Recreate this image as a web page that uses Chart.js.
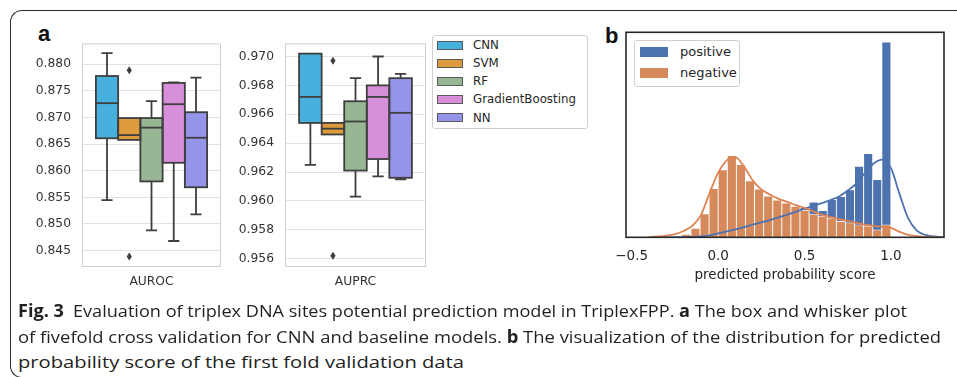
<!DOCTYPE html>
<html>
<head>
<meta charset="utf-8">
<script src="https://cdn.jsdelivr.net/npm/chart.js@4.4.1/dist/chart.umd.min.js"></script>
<style>
  body { margin:0; background:#fff; width:957px; height:377px; overflow:hidden; position:relative; font-family:"DejaVu Sans", sans-serif; }
  .frame { position:absolute; left:10px; top:10px; width:980px; height:368px; box-sizing:border-box; border:1.4px solid #2b2b2b; border-right:none; border-radius:12px 0 0 12px; }
  canvas { position:absolute; }
  .lab { position:absolute; font:bold 22px "Liberation Sans", Arial, sans-serif; line-height:22px; color:#111; }
  .legend { position:absolute; box-sizing:border-box; border:1px solid #cfcfcf; border-radius:3px; background:#fff; }
  .legend .sw { position:absolute; box-sizing:border-box; }
  .legend .tx { position:absolute; white-space:nowrap; color:#262626; }
  .cap { position:absolute; left:18px; white-space:nowrap; font-family:"Liberation Sans Narrow", "Open Sans", sans-serif; font-size:17px; line-height:22px; color:#231f20; transform-origin:0 50%; }
</style>
</head>
<body>
<div class="frame"></div>
<div class="lab" style="left:38px;top:23px">a</div>
<div class="lab" style="left:605px;top:25px">b</div>

<canvas id="auroc" width="205" height="275" style="left:20px;top:25px"></canvas>
<canvas id="auprc" width="205" height="275" style="left:225px;top:25px"></canvas>
<canvas id="hist" width="352" height="268" style="left:600px;top:22px"></canvas>
<div id="legA" class="legend" style="left:432px;top:35px;width:156px;height:94px"></div>
<div id="legB" class="legend" style="left:634px;top:40px;width:106px;height:47px"></div>

<div class="cap" style="top:300px" data-w="889"><b>Fig. 3</b>&ensp;Evaluation of triplex DNA sites potential prediction model in TriplexFPP. <b>a</b> The box and whisker plot</div>
<div class="cap" style="top:326px" data-w="923">of fivefold cross validation for CNN and baseline models. <b>b</b> The visualization of the distribution for predicted</div>
<div class="cap" style="top:351px" data-w="446">probability score of the first fold validation data</div>

<script>
// panel a: five-fold CV box plots
const models = ['CNN', 'SVM', 'RF', 'GradientBoosting', 'NN'];
const modelColors = ['#48b0dc', '#de9b3b', '#97b694', '#d88fd9', '#9494ea'];

const aurocMin = [0.8545, 0.8658, 0.8488, 0.8468, 0.8518];
const aurocQ1  = [0.8661, 0.8658, 0.8580, 0.8615, 0.8569];
const aurocMed = [0.8727, 0.8667, 0.8681, 0.8725, 0.8662];
const aurocQ3  = [0.8778, 0.8699, 0.8699, 0.8765, 0.8710];
const aurocMax = [0.8821, 0.8699, 0.8731, 0.8766, 0.8775];
const aurocOut = [[], [0.8789, 0.8439], [], [], []];
const aurocTicks = [0.845, 0.850, 0.855, 0.860, 0.865, 0.870, 0.875, 0.880];

const auprcMin = [0.9625, 0.9646, 0.9603, 0.9617, 0.9615];
const auprcQ1  = [0.9654, 0.9646, 0.9621, 0.9629, 0.9616];
const auprcMed = [0.9672, 0.9650, 0.9655, 0.9672, 0.9661];
const auprcQ3  = [0.9702, 0.9654, 0.9669, 0.9680, 0.9685];
const auprcMax = [0.9702, 0.9654, 0.9685, 0.9700, 0.9688];
const auprcOut = [[], [0.9697, 0.9562], [], [], []];
const auprcTicks = [0.956, 0.958, 0.960, 0.962, 0.964, 0.966, 0.968, 0.970];

// panel b: histogram (density) of predicted scores, bin centres
const binCenters = [-0.1837, -0.1311, -0.0785, -0.0259, 0.0267, 0.0793, 0.1319, 0.1845, 0.2371, 0.2897, 0.3423, 0.3949,
                    0.4475, 0.5001, 0.5527, 0.6053, 0.6579, 0.7105, 0.7631, 0.8157, 0.8683, 0.9209, 0.9735];
const posDensity = [0.01, 0.02, 0.05, 0.10, 0.15, 0.20, 0.26, 0.32, 0.38, 0.44, 0.50, 0.56,
                    0.66, 0.76, 0.90, 0.68, 0.96, 1.04, 1.21, 1.81, 2.13, 1.47, 4.97];
const negDensity = [0.08, 0.23, 0.60, 1.24, 1.72, 2.08, 1.85, 1.44, 1.23, 1.05, 0.95, 0.87,
                    0.79, 0.69, 0.59, 0.54, 0.49, 0.41, 0.37, 0.32, 0.29, 0.19, 0.32];
const kdeX   = [-0.4, -0.35, -0.3, -0.25, -0.2, -0.15, -0.1, -0.05, 0.0, 0.05, 0.1, 0.15, 0.2, 0.25, 0.3, 0.35, 0.4,
                0.45, 0.5, 0.55, 0.6, 0.65, 0.7, 0.75, 0.8, 0.85, 0.9, 0.95, 1.0, 1.05, 1.1, 1.15, 1.2, 1.25, 1.3];
const posKde = [0, 0, 0, 0, 0.005, 0.01, 0.02, 0.05, 0.10, 0.15, 0.20, 0.26, 0.32, 0.38, 0.44, 0.51, 0.58,
                0.65, 0.73, 0.80, 0.87, 0.95, 1.04, 1.19, 1.37, 1.64, 1.88, 1.98, 1.76, 1.10, 0.48, 0.17, 0.06, 0.02, 0];
const negKde = [0.01, 0.02, 0.04, 0.08, 0.16, 0.29, 0.56, 1.12, 1.64, 1.96, 2.04, 1.80, 1.45, 1.22, 1.09, 0.98, 0.90,
                0.82, 0.75, 0.66, 0.58, 0.52, 0.46, 0.42, 0.37, 0.32, 0.29, 0.27, 0.24, 0.14, 0.06, 0.03, 0.01, 0, 0];
const xTicks = [-0.5, 0.0, 0.5, 1.0];

const tickFont = { family: 'DejaVu Sans', size: 12.3 };
const edge = '#3f3f3f';

// whiskers, outline, medians and fliers drawn from the y scale
const boxPlugin = {
  id: 'boxExtras',
  beforeDatasetsDraw(chart) {
    const a = chart.chartArea, ctx = chart.ctx, y = chart.scales.y;
    ctx.save();
    ctx.strokeStyle = '#cfcfcf'; ctx.lineWidth = 1;
    ctx.strokeRect(a.left + 0.5, a.top + 0.5, a.right - a.left - 1, a.bottom - a.top - 1);
    ctx.strokeStyle = edge; ctx.lineWidth = 1.8;
    chart.data.datasets.forEach((ds, i) => {
      const el = chart.getDatasetMeta(i).data[0];
      const x = el.x, w = el.width;
      const pts = [[ds.q3, ds.hi], [ds.q1, ds.lo]];
      pts.forEach(([from, to]) => {
        if (from === to) return;
        ctx.beginPath();
        ctx.moveTo(x, y.getPixelForValue(from)); ctx.lineTo(x, y.getPixelForValue(to));
        ctx.moveTo(x - w / 4, y.getPixelForValue(to)); ctx.lineTo(x + w / 4, y.getPixelForValue(to));
        ctx.stroke();
      });
    });
    ctx.restore();
  },
  afterDatasetsDraw(chart) {
    const ctx = chart.ctx, y = chart.scales.y;
    ctx.save();
    ctx.strokeStyle = edge; ctx.fillStyle = edge; ctx.lineWidth = 1.8;
    chart.data.datasets.forEach((ds, i) => {
      const el = chart.getDatasetMeta(i).data[0];
      const x = el.x, w = el.width;
      const top = y.getPixelForValue(ds.q3), bot = y.getPixelForValue(ds.q1);
      ctx.strokeRect(x - w / 2, top, w, bot - top);
      const m = y.getPixelForValue(ds.med);
      ctx.beginPath(); ctx.moveTo(x - w / 2, m); ctx.lineTo(x + w / 2, m); ctx.stroke();
      ds.out.forEach(v => {
        const p = y.getPixelForValue(v);
        ctx.beginPath();
        ctx.moveTo(x, p - 4); ctx.lineTo(x + 2.6, p); ctx.lineTo(x, p + 4); ctx.lineTo(x - 2.6, p);
        ctx.closePath(); ctx.fill();
      });
    });
    ctx.restore();
  }
};

function boxChart(id, label, q1, q3, lo, hi, med, out, yMin, yMax, ticks, yWidth) {
  return new Chart(document.getElementById(id), {
    type: 'bar',
    data: {
      labels: [label],
      datasets: models.map((m, i) => ({
        label: m,
        data: [[q1[i], q3[i]]],
        backgroundColor: modelColors[i],
        borderWidth: 0,
        q1: q1[i], q3: q3[i], lo: lo[i], hi: hi[i], med: med[i], out: out[i]
      }))
    },
    options: {
      responsive: false, animation: false, devicePixelRatio: 1,
      layout: { padding: { top: 10, right: 4, left: 0, bottom: 0 } },
      datasets: { bar: { categoryPercentage: 0.8, barPercentage: 1 } },
      plugins: { legend: { display: false }, tooltip: { enabled: false } },
      scales: {
        x: {
          grid: { display: false, drawTicks: false }, border: { display: false },
          ticks: { padding: 7.5, color: '#333', font: tickFont },
          afterFit(s) { s.height = 33; }
        },
        y: {
          min: yMin, max: yMax,
          afterBuildTicks(s) { s.ticks = ticks.map(v => ({ value: v })); },
          grid: { color: '#e2e2e2', lineWidth: 1, drawTicks: false },
          border: { display: false },
          ticks: { padding: 11, color: '#333', font: tickFont, autoSkip: false, callback: v => v.toFixed(3) },
          afterFit(s) { s.width = yWidth; }
        }
      }
    },
    plugins: [boxPlugin]
  });
}

const chartA = boxChart('auroc', 'AUROC', aurocQ1, aurocQ3, aurocMin, aurocMax, aurocMed, aurocOut, 0.84192, 0.88393, aurocTicks, 62);
const chartB = boxChart('auprc', 'AUPRC', auprcQ1, auprcQ3, auprcMin, auprcMax, auprcMed, auprcOut, 0.95542, 0.97091, auprcTicks, 60);

const framePlugin = {
  id: 'blackFrame',
  afterDatasetsDraw(chart) {
    const a = chart.chartArea, ctx = chart.ctx;
    ctx.save();
    ctx.strokeStyle = '#262626'; ctx.lineWidth = 1.6;
    ctx.strokeRect(a.left, a.top, a.right - a.left, a.bottom - a.top);
    ctx.restore();
  }
};

const histChart = new Chart(document.getElementById('hist'), {
  type: 'bar',
  data: {
    datasets: [
      { type: 'bar', label: 'positive', data: binCenters.map((x, i) => ({ x: x, y: posDensity[i] })),
        backgroundColor: '#4c72b0', borderColor: '#ffffff', borderWidth: 0.8, grouped: false,
        barPercentage: 1, categoryPercentage: 1, order: 4 },
      { type: 'bar', label: 'negative', data: binCenters.map((x, i) => ({ x: x, y: negDensity[i] })),
        backgroundColor: '#d68a5c', borderColor: '#ffffff', borderWidth: 0.8, grouped: false,
        barPercentage: 1, categoryPercentage: 1, order: 3 },
      { type: 'line', label: 'positive kde', data: kdeX.map((x, i) => ({ x: x, y: posKde[i] })),
        borderColor: '#4c72b0', borderWidth: 1.8, pointRadius: 0, cubicInterpolationMode: 'monotone', order: 2 },
      { type: 'line', label: 'negative kde', data: kdeX.map((x, i) => ({ x: x, y: negKde[i] })),
        borderColor: '#dd8452', borderWidth: 1.8, pointRadius: 0, cubicInterpolationMode: 'monotone', order: 1 }
    ]
  },
  options: {
    responsive: false, animation: false, devicePixelRatio: 1,
    layout: { padding: { top: 10.3, right: 8, left: 26, bottom: 0 } },
    plugins: { legend: { display: false }, tooltip: { enabled: false } },
    scales: {
      x: {
        type: 'linear', offset: false, min: -0.533, max: 1.307,
        afterBuildTicks(s) { s.ticks = xTicks.map(v => ({ value: v })); },
        grid: { display: false, drawTicks: false }, border: { display: false },
        ticks: { padding: 11, autoSkip: false, maxRotation: 0, color: '#262626', font: { family: 'DejaVu Sans', size: 13.5 },
                 callback: v => (v < 0 ? '\u2212' : '') + Math.abs(v).toFixed(1) },
        title: { display: true, text: 'predicted probability score', color: '#262626',
                 font: { family: 'DejaVu Sans', size: 13.5 }, padding: { top: 0, bottom: 6.9 } },
        afterFit(s) { s.height = 52.7; }
      },
      y: { display: false, min: 0, max: 5.22 }
    }
  },
  plugins: [framePlugin]
});

// html legends built from the chart datasets
function buildLegend(el, items, opt) {
  items.forEach((it, i) => {
    const c = opt.first + opt.step * i;
    const sw = document.createElement('div');
    sw.className = 'sw';
    Object.assign(sw.style, { left: opt.swLeft + 'px', top: (c - opt.swH / 2) + 'px', width: opt.swW + 'px',
      height: opt.swH + 'px', background: it.color, border: opt.swBorder });
    const tx = document.createElement('div');
    tx.className = 'tx';
    tx.textContent = it.label;
    Object.assign(tx.style, { left: opt.txLeft + 'px', top: (c - opt.font * 0.62) + 'px',
      fontSize: opt.font + 'px', lineHeight: (opt.font * 1.24) + 'px' });
    el.appendChild(sw); el.appendChild(tx);
  });
}
buildLegend(document.getElementById('legA'),
  chartB.data.datasets.map(d => ({ label: d.label, color: d.backgroundColor })),
  { first: 9.5, step: 18.1, swLeft: 4, swW: 26, swH: 9, swBorder: '1px solid #5a5a5a', txLeft: 40, font: 11.8 });
buildLegend(document.getElementById('legB'),
  histChart.data.datasets.slice(0, 2).map(d => ({ label: d.label, color: d.backgroundColor })),
  { first: 11.2, step: 21, swLeft: 5, swW: 28, swH: 9.5, swBorder: 'none', txLeft: 45, font: 13 });

// squeeze caption lines to the measured widths
document.querySelectorAll('.cap').forEach(d => {
  const w = d.getBoundingClientRect().width;
  d.style.transform = 'scaleX(' + (parseFloat(d.dataset.w) / w) + ')';
});
</script>
</body>
</html>
